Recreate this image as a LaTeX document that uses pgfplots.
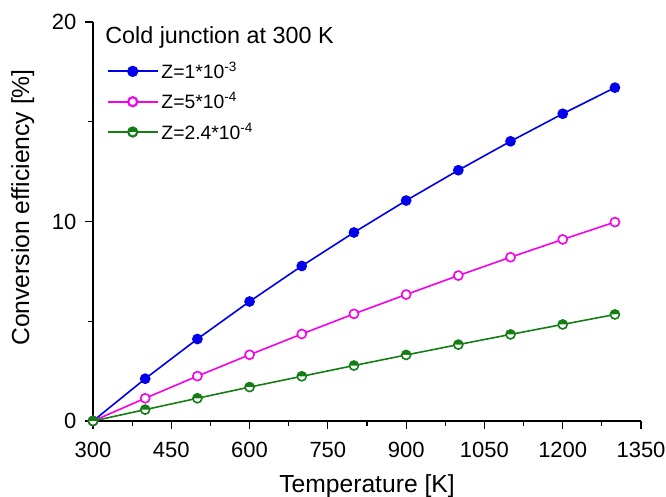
\documentclass[border=0pt]{standalone}
\usepackage{fontspec}
\setmainfont{Liberation Sans}
\usepackage{pgfplots}
\pgfplotsset{compat=1.18}
\usetikzlibrary{plotmarks}

\definecolor{cblue}{RGB}{0,0,235}
\definecolor{cmag}{RGB}{245,0,235}
\definecolor{cgreen}{RGB}{20,125,20}

\begin{document}
\begin{tikzpicture}
\path[use as bounding box] (-69.75pt,-56.25pt) rectangle (429.75pt,315.75pt);
\begin{axis}[
    scale only axis,
    width=411pt, height=299.25pt,
    xmin=300, xmax=1350,
    ymin=0, ymax=20,
    xtick={300,450,...,1350},
    ytick={0,10,20},
    minor x tick num=1,
    minor y tick num=1,
    axis lines=left,
    axis line style={-, line width=0.9pt},
    tick style={line width=0.8pt, black},
    tick align=outside,
    major tick length=6pt,
    minor tick length=3.4pt,
    clip=false,
    /pgf/number format/assume math mode=true,
    /pgf/number format/1000 sep={},
    ticklabel style={font=\fontsize{16.5}{19}\selectfont},
    xticklabel style={yshift=-6pt},
    yticklabel style={xshift=-3pt},
    xlabel={Temperature [K]},
    ylabel={Conversion efficiency [\%]},
    label style={font=\fontsize{18.5}{22}\selectfont},
    xlabel style={at={(axis description cs:0.5,-0.178)}, anchor=base},
    ylabel style={at={(axis description cs:-0.128,0.535)}, anchor=center},
    legend style={draw=none, fill=none, at={(rel axis cs:0.022,0.91)}, anchor=north west,
        font=\fontsize{14.5}{17}\selectfont, row sep=5pt, inner sep=1pt},
    legend cell align=left,
    legend image code/.code={
        \draw[line width=1.6pt, mark repeat=2, mark phase=2]
            plot coordinates {(0pt,0pt) (18.75pt,0pt) (37.5pt,0pt)};
    },
]
\addplot[cblue, line width=1.2pt, mark=*, mark size=3.4pt, mark options={fill=cblue}]
coordinates {(300,0) (400,2.12) (500,4.11) (600,5.99) (700,7.77) (800,9.45)
             (900,11.05) (1000,12.57) (1100,14.02) (1200,15.40) (1300,16.71)};
\addlegendentry{Z=1*10\textsuperscript{-3}}

\addplot[cmag, line width=1.2pt, mark=*, mark size=3.4pt, mark options={fill=white}]
coordinates {(300,0) (400,1.14) (500,2.25) (600,3.32) (700,4.36) (800,5.37)
             (900,6.34) (1000,7.29) (1100,8.21) (1200,9.10) (1300,9.97)};
\addlegendentry{Z=5*10\textsuperscript{-4}}

\addplot[cgreen, line width=1.2pt, mark=halfcircle*, mark size=3.4pt,
         mark options={fill=cgreen, mark color=white}]
coordinates {(300,0) (400,0.57) (500,1.14) (600,1.70) (700,2.24) (800,2.78)
             (900,3.31) (1000,3.83) (1100,4.34) (1200,4.84) (1300,5.34)};
\addlegendentry{Z=2.4*10\textsuperscript{-4}}

\node[anchor=base west, font=\fontsize{17.5}{21}\selectfont, inner sep=0pt]
    at (rel axis cs:0.022,0.945) {Cold junction at 300 K};
\end{axis}
\end{tikzpicture}
\end{document}
